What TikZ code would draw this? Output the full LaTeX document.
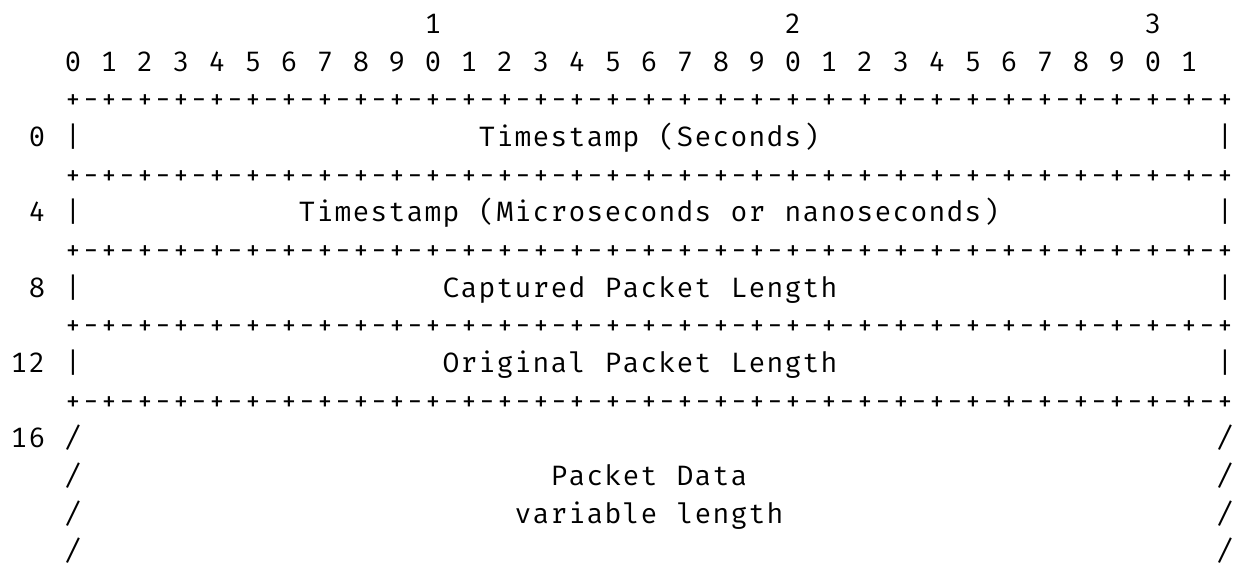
\documentclass[tikz,border=0pt]{standalone}
\usepackage{fontspec}
\setmonofont{Fira Mono}
\ExplSyntaxOn
\NewDocumentCommand\gridtxt{m}{\str_map_inline:nn{#1}{\makebox[18pt][c]{##1}}}
\ExplSyntaxOff
\def\qq{+-+-+-+-}
\edef\bordertxt{\qq\qq\qq\qq\qq\qq\qq\qq+}
\newcommand\borderrow{\expandafter\gridtxt\expandafter{\bordertxt}}
\begin{document}
\begin{tikzpicture}[x=1pt,y=-1pt,
  ch/.style={anchor=base west,inner sep=0pt,outer sep=0pt,text=black,
    font=\ttfamily\fontsize{28pt}{34pt}\selectfont}]
\useasboundingbox (0,0) rectangle (1247,563);
% row 0: tens of bit numbers
\node[ch] (t1) at ({10+18*23},{33.6+37.65*0}) {\gridtxt{1}};
\node[ch] (t2) at ({10+18*43},{33.6+37.65*0}) {\gridtxt{2}};
\node[ch] (t3) at ({10+18*63},{33.6+37.65*0}) {\gridtxt{3}};
% row 1: bit numbers
\node[ch] (bits) at ({10+18*3},{33.6+37.65*1}) {\gridtxt{0 1 2 3 4 5 6 7 8 9 0 1 2 3 4 5 6 7 8 9 0 1 2 3 4 5 6 7 8 9 0 1}};
% border rows
\node[ch] (r2) at ({10+18*3},{33.6+37.65*2}) {\borderrow};
\node[ch] (r4) at ({10+18*3},{33.6+37.65*4}) {\borderrow};
\node[ch] (r6) at ({10+18*3},{33.6+37.65*6}) {\borderrow};
\node[ch] (r8) at ({10+18*3},{33.6+37.65*8}) {\borderrow};
\node[ch] (r10) at ({10+18*3},{33.6+37.65*10}) {\borderrow};
% row 3
\node[ch] (o0) at ({10+18*1},{33.6+37.65*3}) {\gridtxt{0}};
\node[ch] (l3) at ({10+18*3},{33.6+37.65*3}) {\gridtxt{|}};
\node[ch] (f0) at ({10+18*26},{33.6+37.65*3}) {\gridtxt{Timestamp (Seconds)}};
\node[ch] (e3) at ({10+18*67},{33.6+37.65*3}) {\gridtxt{|}};
% row 5
\node[ch] (o4) at ({10+18*1},{33.6+37.65*5}) {\gridtxt{4}};
\node[ch] (l5) at ({10+18*3},{33.6+37.65*5}) {\gridtxt{|}};
\node[ch] (f4) at ({10+18*16},{33.6+37.65*5}) {\gridtxt{Timestamp (Microseconds or nanoseconds)}};
\node[ch] (e5) at ({10+18*67},{33.6+37.65*5}) {\gridtxt{|}};
% row 7
\node[ch] (o8) at ({10+18*1},{33.6+37.65*7}) {\gridtxt{8}};
\node[ch] (l7) at ({10+18*3},{33.6+37.65*7}) {\gridtxt{|}};
\node[ch] (f8) at ({10+18*24},{33.6+37.65*7}) {\gridtxt{Captured Packet Length}};
\node[ch] (e7) at ({10+18*67},{33.6+37.65*7}) {\gridtxt{|}};
% row 9
\node[ch] (o12) at ({10+18*0},{33.6+37.65*9}) {\gridtxt{12}};
\node[ch] (l9) at ({10+18*3},{33.6+37.65*9}) {\gridtxt{|}};
\node[ch] (f12) at ({10+18*24},{33.6+37.65*9}) {\gridtxt{Original Packet Length}};
\node[ch] (e9) at ({10+18*67},{33.6+37.65*9}) {\gridtxt{|}};
% row 11-14
\node[ch] (o16) at ({10+18*0},{33.6+37.65*11}) {\gridtxt{16}};
\node[ch] (l11) at ({10+18*3},{33.6+37.65*11}) {\gridtxt{/}};
\node[ch] (e11) at ({10+18*67},{33.6+37.65*11}) {\gridtxt{/}};
\node[ch] (l12) at ({10+18*3},{33.6+37.65*12}) {\gridtxt{/}};
\node[ch] (f16) at ({10+18*30},{33.6+37.65*12}) {\gridtxt{Packet Data}};
\node[ch] (e12) at ({10+18*67},{33.6+37.65*12}) {\gridtxt{/}};
\node[ch] (l13) at ({10+18*3},{33.6+37.65*13}) {\gridtxt{/}};
\node[ch] (f16b) at ({10+18*28},{33.6+37.65*13}) {\gridtxt{variable length}};
\node[ch] (e13) at ({10+18*67},{33.6+37.65*13}) {\gridtxt{/}};
\node[ch] (l14) at ({10+18*3},{33.6+37.65*14}) {\gridtxt{/}};
\node[ch] (e14) at ({10+18*67},{33.6+37.65*14}) {\gridtxt{/}};
\end{tikzpicture}
\end{document}
